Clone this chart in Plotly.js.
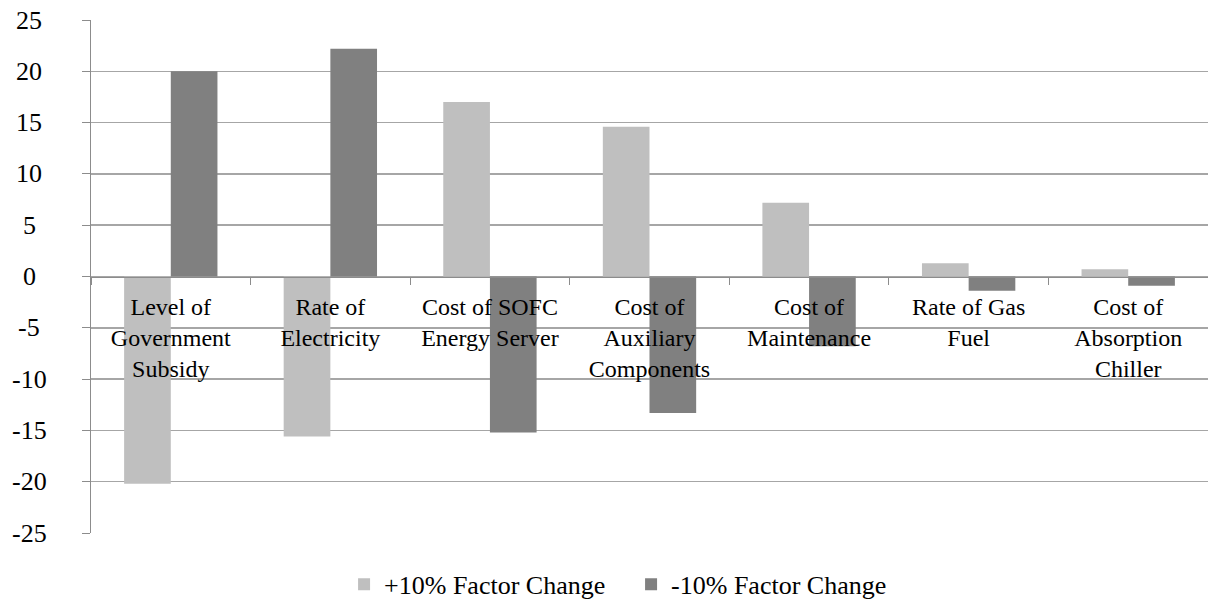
<!DOCTYPE html>
<html>
<head>
<meta charset="utf-8">
<script src="https://cdn.plot.ly/plotly-3.0.1.min.js"></script>
<style>html,body{margin:0;padding:0;background:#fff;}#chart{width:1208px;height:602px;}</style>
</head>
<body>
<div id="chart"></div>
<script>
const categories = [
  'Level of<br>Government<br>Subsidy',
  'Rate of<br>Electricity',
  'Cost of SOFC<br>Energy Server',
  'Cost of<br>Auxiliary<br>Components',
  'Cost of<br>Maintenance',
  'Rate of Gas<br>Fuel',
  'Cost of<br>Absorption<br>Chiller'
];
const plus10 = [-20.2, -15.6, 17.0, 14.6, 7.2, 1.3, 0.7];
const minus10 = [20.0, 22.2, -15.2, -13.3, -6.8, -1.4, -0.9];
const seriesNames = ['+10% Factor Change', '-10% Factor Change'];
const yTicks = [25, 20, 15, 10, 5, 0, -5, -10, -15, -20, -25];

const font = '"Liberation Serif", "Times New Roman", serif';
const gridColor = '#a6a6a6';
const axisColor = '#8c8c8c';

const traces = [
  {type: 'bar', name: seriesNames[0], x: categories, y: plus10, marker: {color: '#bfbfbf'}},
  {type: 'bar', name: seriesNames[1], x: categories, y: minus10, marker: {color: '#808080'}}
];

const annotations = yTicks.map(v => ({
  xref: 'paper', yref: 'y', x: 0, y: v, xshift: -62,
  xanchor: 'center', yanchor: 'middle', showarrow: false,
  text: String(v), font: {family: font, size: 26, color: '#000'}
}));

const layout = {
  width: 1208, height: 602,
  margin: {l: 91, r: 0, t: 20, b: 69, autoexpand: false},
  paper_bgcolor: '#fff', plot_bgcolor: '#fff',
  font: {family: font},
  barmode: 'group', bargap: 0.415, bargroupgap: 0,
  showlegend: true,
  legend: {orientation: 'h', x: 0.4835, xanchor: 'center', y: -0.1, yanchor: 'middle',
           font: {family: font, size: 26, color: '#000'}, itemwidth: 30, tracegroupgap: 0,
           entrywidth: 242},
  xaxis: {
    type: 'category', anchor: 'free', position: 0.5,
    showline: true, linecolor: axisColor, linewidth: 1.5,
    ticks: 'outside', tickson: 'boundaries', ticklen: 7, tickcolor: axisColor, tickwidth: 1,
    showgrid: false, zeroline: false,
    tickfont: {family: font, size: 24, color: '#000'},
    ticklabelstandoff: 8
  },
  yaxis: {
    range: [-25, 25], tickvals: yTicks, showticklabels: false,
    showgrid: true, gridcolor: gridColor, gridwidth: 1.5,
    showline: true, linecolor: axisColor, linewidth: 1.5,
    ticks: 'outside', ticklen: 8, tickcolor: axisColor,
    zeroline: false
  },
  annotations: annotations
};

Plotly.newPlot('chart', traces, layout, {displayModeBar: false, staticPlot: true});
</script>
</body>
</html>
